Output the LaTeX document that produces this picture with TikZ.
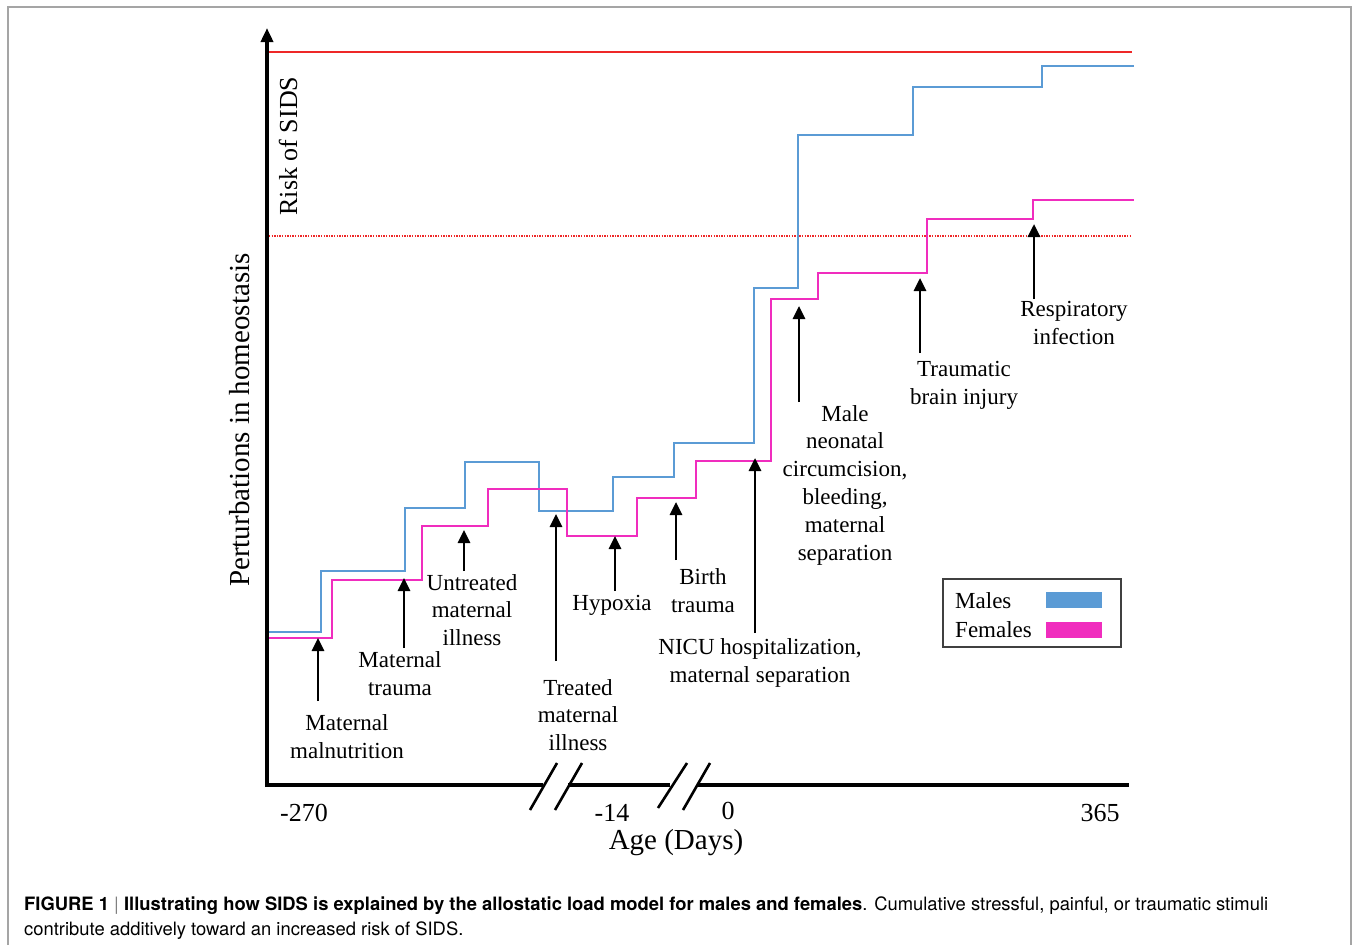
\documentclass[tikz,border=0pt]{standalone}
\usepackage{fontspec}
\setmainfont{Liberation Serif}
\newfontfamily\capfont{TeX Gyre Heros}
\usetikzlibrary{arrows.meta}
\definecolor{maleblue}{RGB}{91,155,213}
\definecolor{femalepink}{RGB}{240,45,190}
\definecolor{riskred}{RGB}{238,40,40}
\definecolor{framegray}{RGB}{165,165,165}
\tikzset{
  lbl/.style={font=\fontsize{23}{27.8}\selectfont, align=center, inner sep=0pt},
  stim/.style={line width=2.8pt, -{Triangle[width=12pt,length=13pt]}},
  males/.style={draw=maleblue, line width=2pt},
  females/.style={draw=femalepink, line width=2pt},
  axis/.style={line width=3.5pt},
  brk/.style={line width=2.6pt},
}
\begin{document}
\begin{tikzpicture}[x=1pt, y=-1pt]
  \useasboundingbox (0,0) rectangle (1359,945);
  \draw[framegray, line width=1.6pt] (8,945) -- (8,7) -- (1351,7) -- (1351,945);

  % risk thresholds
  \draw[riskred, line width=2pt] (269,52) -- (1132,52);
  \draw[riskred, line width=1.8pt, dash pattern=on 1.4pt off 1.2pt] (269,236) -- (1132,236);

  % axes
  \draw[axis, -{Triangle[width=12pt,length=14pt]}] (267,787) -- (267,28);
  \draw[axis] (265,785) -- (543,785);
  \draw[axis] (568,785) -- (670,785);
  \draw[axis] (697,785) -- (1129,785);
  \draw[brk] (530,810) -- (557,763);
  \draw[brk] (555,810) -- (582,763);
  \draw[brk] (658,808) -- (687,763);
  \draw[brk] (683,810) -- (710,763);

  \node[font=\fontsize{26}{30}\selectfont] (tickA) at (304,813) {-270};
  \node[font=\fontsize{26}{30}\selectfont] (tickB) at (612,813) {-14};
  \node[font=\fontsize{26}{30}\selectfont] (tickC) at (728,811) {0};
  \node[font=\fontsize{26}{30}\selectfont] (tickD) at (1100,813) {365};
  \node[font=\fontsize{29}{33}\selectfont] (xlabel) at (676,843) {Age (Days)};
  \node[font=\fontsize{29}{33}\selectfont, rotate=90] (ylabel) at (240,420) {Perturbations in homeostasis};
  \node[font=\fontsize{26}{30}\selectfont, rotate=90] (risk) at (288,146) {Risk of SIDS};

  % load curves
  \draw[males] (269,632) -- (321,632) -- (321,571) -- (405,571) -- (405,508) -- (465,508)
    -- (465,462) -- (539,462) -- (539,511) -- (613,511) -- (613,477) -- (674,477)
    -- (674,443) -- (754,443) -- (754,288) -- (798,288) -- (798,135) -- (913,135)
    -- (913,87) -- (1042,87) -- (1042,66) -- (1134,66);
  \draw[females] (269,638) -- (332,638) -- (332,580) -- (422,580) -- (422,526) -- (488,526)
    -- (488,489) -- (567,489) -- (567,536) -- (637,536) -- (637,498) -- (696,498)
    -- (696,461) -- (771,461) -- (771,299) -- (818,299) -- (818,273) -- (927,273)
    -- (927,219) -- (1033,219) -- (1033,200) -- (1134,200);

  % stimuli
  \node[lbl] (malnut) at (347,737) {Maternal\\malnutrition};
  \node[lbl] (mtrauma) at (400,674) {Maternal\\trauma};
  \node[lbl] (untreated) at (472,610) {Untreated\\maternal\\illness};
  \node[lbl] (treated) at (578,715) {Treated\\maternal\\illness};
  \node[lbl] (hypoxia) at (612,605) {Hypoxia};
  \node[lbl] (birth) at (703,591) {Birth\\trauma};
  \node[lbl] (nicu) at (760,663) {NICU hospitalization,\\maternal separation};
  \node[lbl] (circ) at (845,485) {Male\\neonatal\\circumcision,\\bleeding,\\maternal\\separation};
  \node[lbl] (tbi) at (964,385) {Traumatic\\brain injury};
  \node[lbl] (resp) at (1074,323) {Respiratory\\infection};

  \coordinate (malnutS) at (318,701);  \coordinate (malnutE) at (318,638);
  \coordinate (mtraumaS) at (404,648); \coordinate (mtraumaE) at (404,578);
  \coordinate (untreatedS) at (464,571); \coordinate (untreatedE) at (464,530);
  \coordinate (treatedS) at (556,661); \coordinate (treatedE) at (556,514);
  \coordinate (hypoxiaS) at (615,591); \coordinate (hypoxiaE) at (615,536);
  \coordinate (birthS) at (676,560);   \coordinate (birthE) at (676,502);
  \coordinate (nicuS) at (755,633);    \coordinate (nicuE) at (755,458);
  \coordinate (circS) at (799,402);    \coordinate (circE) at (799,306);
  \coordinate (tbiS) at (920,353);     \coordinate (tbiE) at (920,278);
  \coordinate (respS) at (1034,299);   \coordinate (respE) at (1034,224);
  \draw[stim] (malnutS) -- (malnutE);
  \draw[stim] (mtraumaS) -- (mtraumaE);
  \draw[stim] (untreatedS) -- (untreatedE);
  \draw[stim] (treatedS) -- (treatedE);
  \draw[stim] (hypoxiaS) -- (hypoxiaE);
  \draw[stim] (birthS) -- (birthE);
  \draw[stim] (nicuS) -- (nicuE);
  \draw[stim] (circS) -- (circE);
  \draw[stim] (tbiS) -- (tbiE);
  \draw[stim] (respS) -- (respE);

  % legend
  \draw[line width=1.6pt, black!75] (943,579) rectangle (1121,647);
  \node[lbl, anchor=west] (males) at (955,601) {Males};
  \node[lbl, anchor=west] (females) at (955,630) {Females};
  \fill[maleblue] (1046,592) rectangle (1102,608);
  \fill[femalepink] (1046,622) rectangle (1102,638);

  % caption
  \node[anchor=base west, inner sep=0pt, font=\capfont\fontsize{18.4}{21}\selectfont] (cap1) at (24,910)
    {\textbf{FIGURE 1} {\color{gray}|} \textbf{Illustrating how SIDS is explained by the allostatic load model for males and females}. Cumulative stressful, painful, or traumatic stimuli};
  \node[anchor=base west, inner sep=0pt, font=\capfont\fontsize{18.4}{21}\selectfont] (cap2) at (24,935)
    {contribute additively toward an increased risk of SIDS.};
\end{tikzpicture}
\end{document}
